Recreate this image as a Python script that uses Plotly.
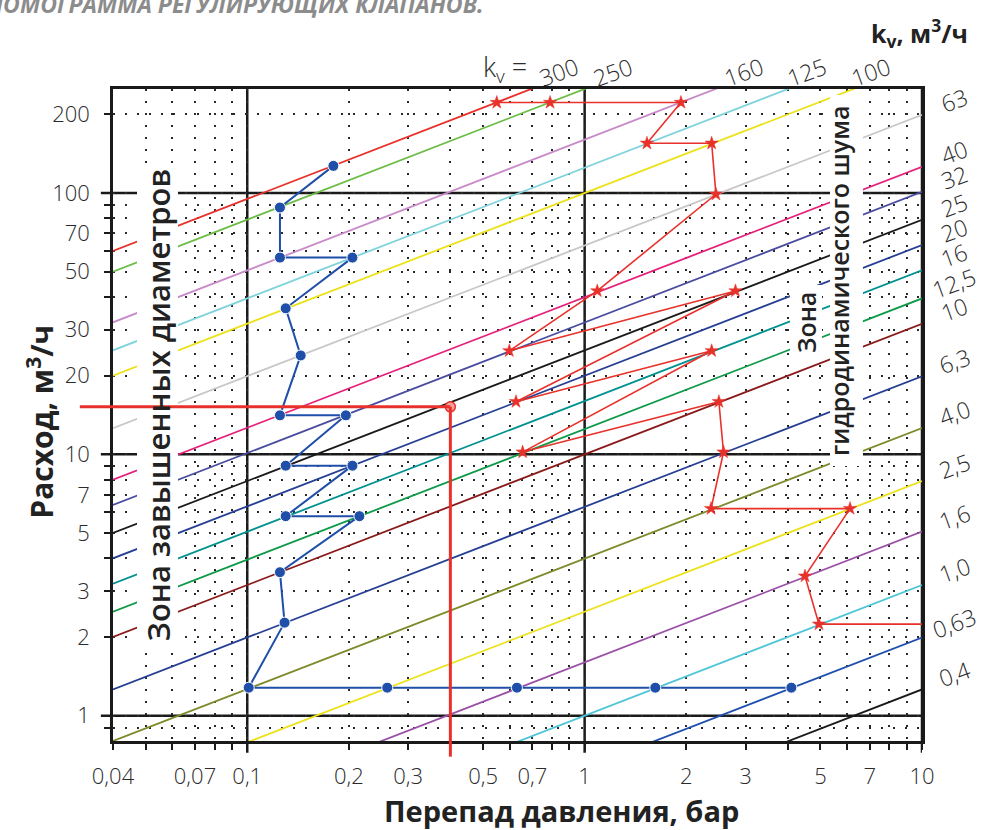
import math
import plotly.graph_objects as go

# kv lines (Q = kv * sqrt(dp)); Q read at the two ends of the dp axis
kv_labels = ["300", "250", "160", "125", "100", "63", "40", "32", "25", "20",
             "16", "12,5", "10", "6,3", "4,0", "2,5", "1,6", "1,0", "0,63", "0,4"]
kv_colors = ["#e8312a", "#6cbd45", "#c88ac8", "#7fd3dc", "#ece21a", "#c8c8c8",
             "#e6207a", "#4a4ca0", "#1a1a1a", "#263f94", "#00928f", "#0f9a4a",
             "#8a1a1a", "#263f94", "#7f8a2a", "#ece21a", "#9a50a6", "#4ec6d8",
             "#1f4fae", "#1a1a1a"]
dp_ends = [0.04, 10]
q_at_left = [60, 50, 32, 25, 20, 12.6, 8, 6.4, 5, 4, 3.2, 2.5, 2, 1.26, 0.8,
             0.5, 0.32, 0.2, 0.126, 0.08]
q_at_right = [949, 791, 506, 395, 316, 199, 126, 101, 79, 63.2, 50.6, 39.5,
              31.6, 19.9, 12.6, 7.9, 5.06, 3.16, 1.99, 1.26]
top_exit_dp = [0.69, 1.0, 2.44, 3.75, 5.8]   # where the first five lines leave the top

# blue path (oversized valves zone)
blue_dp = [0.18, 0.125, 0.125, 0.205, 0.13, 0.144, 0.125, 0.196, 0.13, 0.205,
           0.13, 0.215, 0.125, 0.129, 0.101, 0.26, 0.63, 1.62, 4.1]
blue_q = [127, 88, 56.6, 56.6, 36.2, 23.9, 14.1, 14.1, 9.05, 9.05,
          5.8, 5.8, 3.54, 2.27, 1.28, 1.28, 1.28, 1.28, 1.28]

# red path (noise zone); last point is the exit at the right edge
red_dp = [0.549, 0.79, 1.93, 1.53, 2.38, 2.45, 1.09, 0.598, 2.8, 0.626, 2.38,
          0.655, 2.5, 2.58, 2.37, 6.12, 4.5, 4.95, 10]
red_q = [222, 222, 222, 155, 155, 98.9, 42.2, 24.9, 42.2, 15.9, 24.9,
         10.2, 15.9, 10.2, 6.2, 6.2, 3.42, 2.24, 2.24]

# selected point
sel_dp = 0.4
sel_q = 15.2

x_tickvals = [0.04, 0.07, 0.1, 0.2, 0.3, 0.5, 0.7, 1, 2, 3, 5, 7, 10]
x_ticktext = ["0,04", "0,07", "0,1", "0,2", "0,3", "0,5", "0,7", "1", "2", "3", "5", "7", "10"]
x_minor = [0.05, 0.06, 0.08, 0.09, 0.4, 0.6, 0.8, 0.9, 4, 6, 8, 9]
y_tickvals = [1, 2, 3, 5, 7, 10, 20, 30, 50, 70, 100, 200]
y_ticktext = ["1", "2", "3", "5", "7", "10", "20", "30", "50", "70", "100", "200"]
y_minor = [0.9, 4, 6, 8, 9, 40, 60, 80, 90]
x_major_lines = [0.1, 1, 10]
y_major_lines = [1, 10, 100]
x_min, x_max = 0.04, 10
y_min, y_max = 0.8, 250

FONT = "Open Sans"
DARK = "#1a1a1a"
GRID = dict(showgrid=True, gridcolor="#2a2a2a", gridwidth=2, griddash="2px,10px")

fig = go.Figure()

for ql, qr, c in zip(q_at_left, q_at_right, kv_colors):
    fig.add_trace(go.Scatter(x=dp_ends, y=[ql, qr], mode="lines",
                             line=dict(color=c, width=1.8),
                             hoverinfo="skip", showlegend=False))

fig.add_trace(go.Scatter(x=blue_dp, y=blue_q, mode="lines+markers",
                         line=dict(color="#1f4fa8", width=2),
                         marker=dict(size=11, color="#1f4fa8", line=dict(color="white", width=1)),
                         hoverinfo="skip", showlegend=False))

fig.add_trace(go.Scatter(x=red_dp, y=red_q, mode="lines",
                         line=dict(color="#e8312a", width=1.6),
                         hoverinfo="skip", showlegend=False))
fig.add_trace(go.Scatter(x=red_dp[:-1], y=red_q[:-1], mode="markers",
                         marker=dict(symbol="star", size=10, color="#e8312a",
                                     line=dict(color="#e8312a", width=0.5)),
                         hoverinfo="skip", showlegend=False))

shapes = []
# solid decade lines, extending past the axes as long ticks
for v in x_major_lines:
    shapes.append(dict(type="line", layer="between", xref="x", yref="paper",
                       x0=v, x1=v, y0=-0.018, y1=1,
                       line=dict(color=DARK, width=2.5)))
for v in y_major_lines:
    shapes.append(dict(type="line", layer="between", xref="paper", yref="y",
                       x0=-0.015, x1=1, y0=v, y1=v,
                       line=dict(color=DARK, width=2.5)))

# white boxes behind the zone captions
for x0, x1, y0, y1 in [(0.0297, 0.0803, 0.1457, 0.8865),
                       (0.8368, 0.8764, 0.5874, 0.6994),
                       (0.8863, 0.9270, 0.4218, 0.9908)]:
    shapes.append(dict(type="rect", layer="above", xref="paper", yref="paper",
                       x0=x0, x1=x1, y0=y0, y1=y1,
                       fillcolor="white", line=dict(width=0)))

# red guide lines to the selected point
red_guide = dict(color="#e8312a", width=3)
shapes += [
    dict(type="line", layer="above", xref="x", yref="y",
         x0=x_min, x1=sel_dp, y0=sel_q, y1=sel_q, line=red_guide),
    dict(type="line", layer="above", xref="paper", yref="y",
         x0=-0.041, x1=0, y0=sel_q, y1=sel_q, line=red_guide),
    dict(type="line", layer="above", xref="x", yref="y",
         x0=sel_dp, x1=sel_dp, y0=y_min, y1=sel_q, line=red_guide),
    dict(type="line", layer="above", xref="x", yref="paper",
         x0=sel_dp, x1=sel_dp, y0=-0.024, y1=0, line=red_guide),
]

fig.add_trace(go.Scatter(x=[sel_dp], y=[sel_q], mode="markers",
                         marker=dict(size=10, color="#f4a0a0", line=dict(color="#e8312a", width=1.5)),
                         hoverinfo="skip", showlegend=False))

ann = []
label_font = dict(family=FONT, size=23, color="#2b2b2b", weight=300)
# top labels (annotations on log axes take log10 positions)
for lab, dpx in zip(kv_labels[:5], top_exit_dp):
    ann.append(dict(text=lab, xref="x", yref="paper", x=math.log10(dpx), y=1,
                    xanchor="center", yanchor="middle",
                    xshift=28, yshift=17, textangle=-20, showarrow=False, font=label_font))
# right labels
for lab, q in zip(kv_labels[5:], q_at_right[5:]):
    ann.append(dict(text=lab, xref="paper", yref="y", x=1, y=math.log10(q),
                    xanchor="center", yanchor="middle",
                    xshift=32, yshift=15, textangle=-20, showarrow=False, font=label_font))


def note(text, x, y, font, angle=0, xanchor="center"):
    ann.append(dict(text=text, xref="paper", yref="paper", x=x, y=y, xanchor=xanchor,
                    yanchor="middle", textangle=angle, showarrow=False, font=font))


note("k<sub>v</sub> =", 0.4845, 1.032, dict(family=FONT, size=27, color="#2b2b2b", weight=300))
note("<b>k<sub>v</sub>, м<sup>3</sup>/ч</b>", 0.9975, 1.086, dict(family=FONT, size=25, color="#222"))
note("<b>Расход, м<sup>3</sup>/ч</b>", -0.09, 0.49, dict(family=FONT, size=30, color="#222"), angle=-90)
note("<b>Перепад давления, бар</b>", 0.554, -0.106, dict(family=FONT, size=29, color="#222"))
note("НОМОГРАММА РЕГУЛИРУЮЩИХ КЛАПАНОВ.", 0.46, 1.131,
     dict(family=FONT, size=23, color="#8c8c8c", weight="bold", style="italic"), xanchor="right")

note("Зона завышенных диаметров", 0.0556, 0.515, dict(family=FONT, size=31, color="#222", weight=600), angle=-90)
right_zone = dict(family=FONT, size=25, color="#222", weight=600)
note("Зона", 0.8566, 0.6426, right_zone, angle=-90)
note("гидродинамического шума", 0.8974, 0.7055, right_zone, angle=-90)

tickfont = dict(family=FONT, size=22, color="#2b2b2b", weight=300)

fig.update_layout(
    width=983, height=830,
    margin=dict(l=113, r=61, t=89, b=89),
    plot_bgcolor="white", paper_bgcolor="white",
    shapes=shapes, annotations=ann, showlegend=False,
    xaxis=dict(type="log", range=[math.log10(x_min), math.log10(x_max)],
               tickvals=x_tickvals, ticktext=x_ticktext,
               ticks="outside", ticklen=6, tickwidth=2, tickcolor=DARK,
               showline=True, linecolor=DARK, linewidth=2.5, mirror=True, zeroline=False,
               tickfont=tickfont, ticklabelstandoff=8,
               minor=dict(tickvals=x_minor, ticks="outside", ticklen=6, tickwidth=2,
                          tickcolor=DARK, **GRID),
               **GRID),
    yaxis=dict(type="log", range=[math.log10(y_min), math.log10(y_max)],
               tickvals=y_tickvals, ticktext=y_ticktext,
               ticks="outside", ticklen=6, tickwidth=2, tickcolor=DARK,
               showline=True, linecolor=DARK, linewidth=2.5, mirror=True, zeroline=False,
               tickfont=tickfont, ticklabelstandoff=10,
               minor=dict(tickvals=y_minor, ticks="outside", ticklen=6, tickwidth=2,
                          tickcolor=DARK, **GRID),
               **GRID),
)

fig.write_html("out.html", config={"displayModeBar": False},
               post_script="document.body.style.margin='0';")
